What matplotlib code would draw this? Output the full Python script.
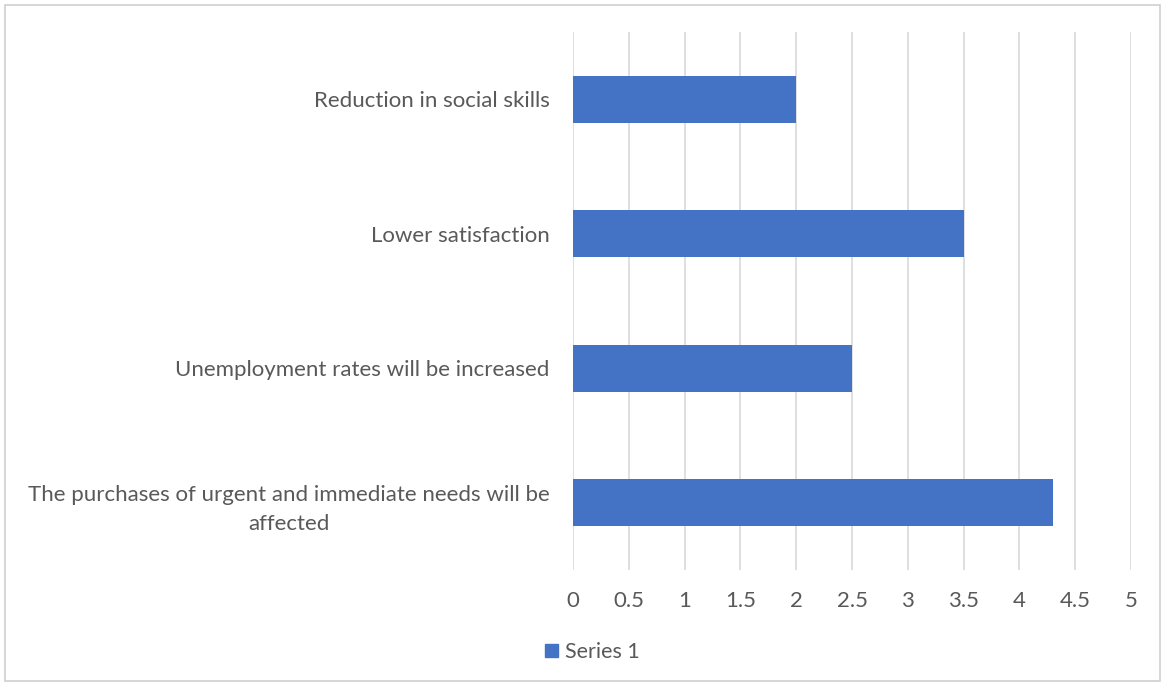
import matplotlib.pyplot as plt
from matplotlib.patches import Rectangle, Patch

categories = [
    "The purchases of urgent and immediate needs will be\naffected",
    "Unemployment rates will be increased",
    "Lower satisfaction",
    "Reduction in social skills",
]
series_1 = [4.3, 2.5, 3.5, 2.0]
x_ticks = [0, 0.5, 1, 1.5, 2, 2.5, 3, 3.5, 4, 4.5, 5]
x_tick_labels = ["0", "0.5", "1", "1.5", "2", "2.5", "3", "3.5", "4", "4.5", "5"]

plt.rcParams['font.family'] = ['Lato', 'DejaVu Sans']
text_color = "#595959"
bar_color = "#4472C4"
grid_color = "#D9D9D9"

fig = plt.figure(figsize=(11.63, 6.82), dpi=100)
fig.patches.append(Rectangle((5 / 1163, 0.002), 1 - 8 / 1163, 1 - 5 / 682 - 0.002,
                             transform=fig.transFigure, fill=False,
                             edgecolor="#D0D0D0", linewidth=1.2))

ax = fig.add_axes([573 / 1163, 1 - 570 / 682, (1131 - 573) / 1163, (570 - 32) / 682])
ypos = range(len(categories))
ax.barh(ypos, series_1, height=0.35, color=bar_color, zorder=3, label="Series 1")

ax.set_xlim(0, 5)
ax.set_ylim(-0.5, len(categories) - 0.5)
ax.set_xticks(x_ticks)
ax.set_xticklabels(x_tick_labels)
ax.set_yticks(list(ypos))
ax.set_yticklabels(categories, multialignment="center", linespacing=1.55)
ax.tick_params(axis="x", length=0, pad=15, labelsize=16, labelcolor=text_color)
ax.tick_params(axis="y", length=0, pad=17, labelsize=16, labelcolor=text_color)
ax.grid(axis="x", color=grid_color, linewidth=1.2, zorder=0)
for s in ax.spines.values():
    s.set_visible(False)

fig.legend(handles=[Patch(color=bar_color, label="Series 1")],
           loc="center left", bbox_to_anchor=(526 / 1163, 1 - 652 / 682),
           frameon=False, fontsize=15.5, handlelength=0.6, handleheight=0.6,
           handletextpad=0.3, labelcolor=text_color)

fig.savefig("out.png", dpi=100)
